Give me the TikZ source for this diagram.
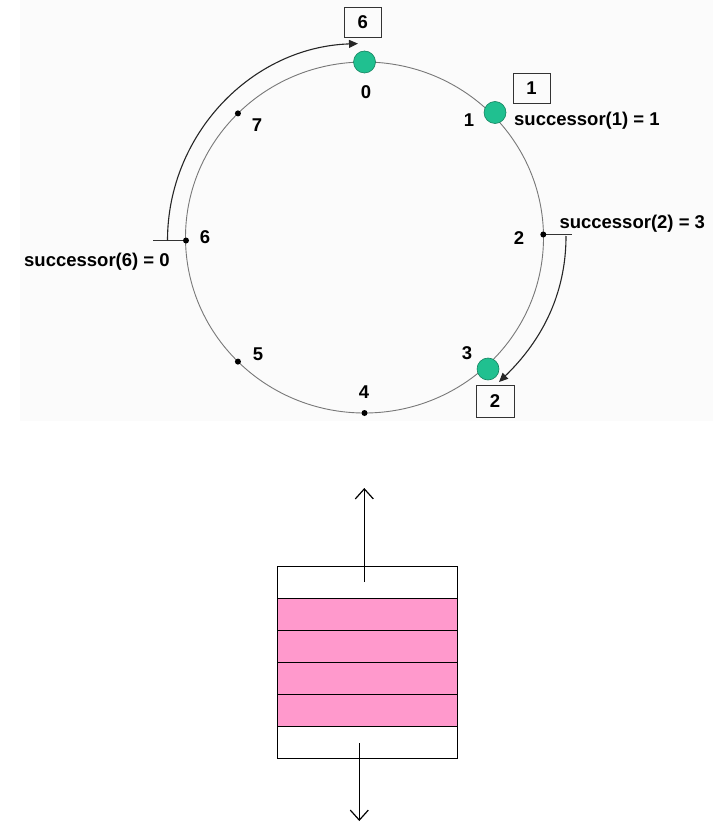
\documentclass[tikz,border=0pt]{standalone}
\usepackage{fontspec}
\setmainfont{Liberation Sans}
\usetikzlibrary{arrows.meta}
\definecolor{nodegreen}{RGB}{32,192,144}
\definecolor{nodegreenline}{RGB}{20,130,95}
\definecolor{ringgray}{RGB}{120,120,120}
\definecolor{stackpink}{RGB}{255,153,204}
\definecolor{paneltint}{RGB}{251,251,251}
\begin{document}
\begin{tikzpicture}[x=1pt,y=-1pt,
  lbl/.style={font=\fontsize{18.5}{20}\selectfont\bfseries, inner sep=0pt},
  gdot/.style={circle,fill=nodegreen,draw=nodegreenline,line width=0.6pt,minimum size=22pt,inner sep=0pt},
  bdot/.style={circle,fill=black,minimum size=6pt,inner sep=0pt},
  numbox/.style={draw=black!80,line width=0.8pt,minimum width=37pt,minimum height=30pt,inner sep=0pt,font=\fontsize{18.5}{20}\selectfont\bfseries},
  ring/.style={draw=ringgray,line width=0.9pt},
  succarc/.style={draw=black!85,line width=1.1pt,-{Triangle[length=9pt,width=8pt]}},
  tickline/.style={draw=black!80,line width=0.8pt},
  stackrow/.style={draw=black,line width=0.8pt,minimum width=180pt,minimum height=32pt,inner sep=0pt,anchor=north west},
  flow/.style={draw=black,line width=1.2pt,-{Straight Barb[length=10pt,width=18pt]}}
]
\useasboundingbox (0,0) rectangle (722,834);
\fill[paneltint] (20,0) rectangle (713,421);

% ring
\coordinate (c) at (364.5,237.5);
\draw[ring] (c) ellipse [x radius=179, y radius=175.5];
\foreach \k in {0,...,7}{
  \path (c) ++({-90+45*\k}:179 and 175.5) coordinate (p\k);
}
\coordinate (q6) at (186,240.5);
\coordinate (q2) at (543.3,234.5);

% successor arcs and ticks
\coordinate (t6) at (153.3,240.5);
\coordinate (t2) at (571.7,234.5);
\coordinate (a6) at (167.5,240.5);
\coordinate (a2s) at (566,236);
\coordinate (a2e) at (499,382);
\draw[tickline] (q6) -- (t6);
\draw[tickline] (q2) -- (t2);
\draw[succarc] (a6) arc[start angle=180,end angle=268.1,radius=197];
\draw[succarc] (a2s) .. controls (566,305) and (532,350) .. (a2e);

% nodes on the ring
\node[gdot] (n0) at (p0) {};
\node[gdot] (n1) at (495,112.5) {};
\node[gdot] (n3) at (488,369) {};
\node[bdot] (d2) at (q2) {};
\node[bdot] (d4) at (p4) {};
\node[bdot] (d5) at (p5) {};
\node[bdot] (d6) at (q6) {};
\node[bdot] (d7) at (p7) {};

% labels
\node[lbl] (l0) at (366,92.5) {0};
\node[lbl] (l1) at (469,120) {1};
\node[lbl] (l2) at (519,238) {2};
\node[lbl] (l3) at (467,353) {3};
\node[lbl] (l4) at (364,392) {4};
\node[lbl] (l5) at (258,354.5) {5};
\node[lbl] (l6) at (205,237.5) {6};
\node[lbl] (l7) at (257,125.5) {7};

% boxes
\node[numbox] (b6) at (362.7,22.3) {6};
\node[numbox] (b1) at (531.5,88.3) {1};
\node[numbox,minimum width=38pt,minimum height=32pt] (b2) at (495,401) {2};

% successor texts
\node[lbl,anchor=base west] (s1) at (514,126) {successor(1) = 1};
\node[lbl,anchor=base west] (s2) at (559.3,228.3) {successor(2) = 3};
\node[lbl,anchor=base west] (s6) at (24,266) {successor(6) = 0};

% stack
\node[stackrow,fill=white] (r0) at (276.7,565.7) {};
\node[stackrow,fill=stackpink] (r1) at (276.7,597.7) {};
\node[stackrow,fill=stackpink] (r2) at (276.7,629.7) {};
\node[stackrow,fill=stackpink] (r3) at (276.7,661.7) {};
\node[stackrow,fill=stackpink] (r4) at (276.7,693.7) {};
\node[stackrow,fill=white] (r5) at (276.7,725.7) {};
\coordinate (u0) at (364.3,582);
\coordinate (u1) at (364.3,488);
\coordinate (v0) at (359.3,743);
\coordinate (v1) at (359.3,821);
\draw[flow] (u0) -- (u1);
\draw[flow] (v0) -- (v1);
\end{tikzpicture}
\end{document}
